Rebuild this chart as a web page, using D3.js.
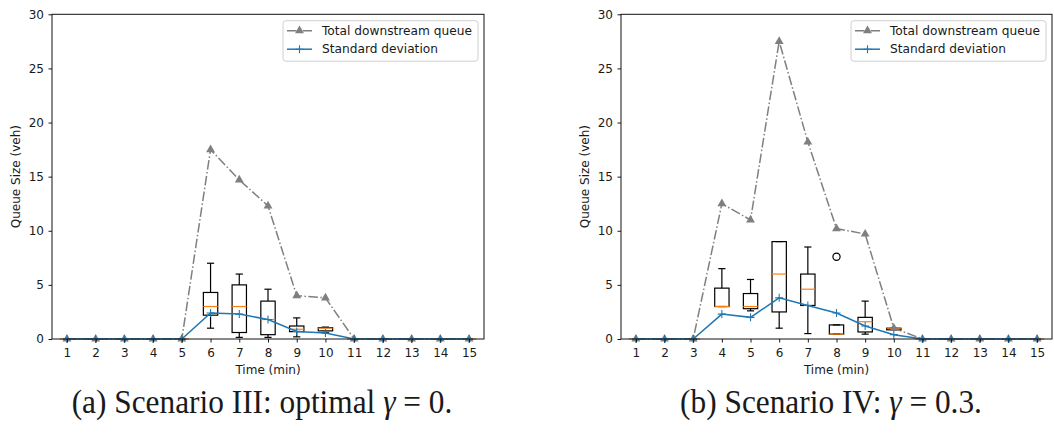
<!DOCTYPE html>
<html>
<head>
<meta charset="utf-8">
<script src="https://cdn.jsdelivr.net/npm/d3@7"></script>
<style>
  html, body { margin: 0; padding: 0; background: #ffffff; }
  svg { display: block; }
  text { font-family: "DejaVu Sans", sans-serif; fill: #1a1a1a; }
  .caption { font-family: "Liberation Serif", serif; fill: #1a1a1a; }
</style>
</head>
<body>
<svg id="fig" width="1054" height="436"></svg>
<script>
// Time steps (minutes) and y tick values
const minutes = [1, 2, 3, 4, 5, 6, 7, 8, 9, 10, 11, 12, 13, 14, 15];
const queueTicks = [0, 5, 10, 15, 20, 25, 30];
const seriesNames = ["Total downstream queue", "Standard deviation"];

// Scenario III (optimal gamma = 0)
const totalQueueA = [0, 0, 0, 0, 0, 17.5, 14.7, 12.3, 4.0, 3.8, 0, 0, 0, 0, 0];
const stdDevA     = [0, 0, 0, 0, 0, 2.4, 2.3, 1.8, 0.7, 0.55, 0, 0, 0, 0, 0];
const whiskerLoA  = [0, 0, 0, 0, 0, 1.0, 0.15, 0.15, 0.2, 0.6, 0, 0, 0, 0, 0];
const q1A         = [0, 0, 0, 0, 0, 2.2, 0.6, 0.4, 0.68, 0.75, 0, 0, 0, 0, 0];
const medianA     = [0, 0, 0, 0, 0, 3.0, 3.0, 1.8, 0.9, 1.0, 0, 0, 0, 0, 0];
const q3A         = [0, 0, 0, 0, 0, 4.3, 5.0, 3.5, 1.2, 1.05, 0, 0, 0, 0, 0];
const whiskerHiA  = [0, 0, 0, 0, 0, 7.0, 6.0, 4.6, 1.95, 1.1, 0, 0, 0, 0, 0];
const flierTimesA = [];
const flierValsA  = [];

// Scenario IV (gamma = 0.3)
const totalQueueB = [0, 0, 0, 12.5, 11.0, 27.5, 18.2, 10.2, 9.7, 1.0, 0, 0, 0, 0, 0];
const stdDevB     = [0, 0, 0, 2.3, 2.0, 3.8, 3.1, 2.4, 1.2, 0.4, 0, 0, 0, 0, 0];
const whiskerLoB  = [0, 0, 0, 3.0, 2.6, 1.0, 0.5, 0.45, 0.45, 0.85, 0, 0, 0, 0, 0];
const q1B         = [0, 0, 0, 3.0, 2.8, 2.5, 3.1, 0.45, 0.65, 0.85, 0, 0, 0, 0, 0];
const medianB     = [0, 0, 0, 3.0, 3.0, 6.0, 4.6, 0.45, 1.6, 1.0, 0, 0, 0, 0, 0];
const q3B         = [0, 0, 0, 4.7, 4.2, 9.0, 6.0, 1.3, 2.0, 1.0, 0, 0, 0, 0, 0];
const whiskerHiB  = [0, 0, 0, 6.5, 5.5, 9.0, 8.5, 1.3, 3.5, 1.0, 0, 0, 0, 0, 0];
const flierTimesB = [8];
const flierValsB  = [7.6];

const GRAY = "#7f7f7f", BLUE = "#1f77b4", ORANGE = "#ff7f0e";
const DASHDOT = "9.6,2.4,1.5,2.4";

const svg = d3.select("#fig");

function drawPanel(cfg) {
  const { left, right, top, bottom } = cfg;
  const x = d3.scaleLinear().domain([0.48, 15.52]).range([left, right]);
  const y = d3.scaleLinear().domain([0, 30]).range([bottom, top]);
  const g = svg.append("g");

  // Box plots
  const boxes = minutes.map((t, i) => ({
    t, lo: cfg.lo[i], q1: cfg.q1[i], med: cfg.med[i], q3: cfg.q3[i], hi: cfg.hi[i]
  }));
  const halfBox = (x(1.25) - x(1)), halfCap = (x(1.125) - x(1));
  const bg = g.append("g").attr("fill", "none").attr("stroke", "#000").attr("stroke-width", 1.2);
  boxes.forEach(b => {
    const cx = x(b.t);
    bg.append("rect")
      .attr("x", cx - halfBox).attr("width", 2 * halfBox)
      .attr("y", y(b.q3)).attr("height", y(b.q1) - y(b.q3));
    bg.append("line").attr("x1", cx).attr("x2", cx).attr("y1", y(b.q3)).attr("y2", y(b.hi));
    bg.append("line").attr("x1", cx).attr("x2", cx).attr("y1", y(b.q1)).attr("y2", y(b.lo));
    bg.append("line").attr("x1", cx - halfCap).attr("x2", cx + halfCap).attr("y1", y(b.hi)).attr("y2", y(b.hi));
    bg.append("line").attr("x1", cx - halfCap).attr("x2", cx + halfCap).attr("y1", y(b.lo)).attr("y2", y(b.lo));
    bg.append("line").attr("stroke", ORANGE)
      .attr("x1", cx - halfBox).attr("x2", cx + halfBox).attr("y1", y(b.med)).attr("y2", y(b.med));
  });
  cfg.flierT.forEach((t, i) => {
    bg.append("circle").attr("cx", x(t)).attr("cy", y(cfg.flierV[i])).attr("r", 3.6);
  });

  // Total downstream queue (dash-dot with triangles)
  const line = d3.line().x((d, i) => x(minutes[i])).y(d => y(d));
  g.append("path").datum(cfg.total)
    .attr("d", line).attr("fill", "none")
    .attr("stroke", GRAY).attr("stroke-width", 1.5).attr("stroke-dasharray", DASHDOT);
  const tri = d3.symbol().type(d3.symbolTriangle).size(34);
  g.selectAll(null).data(cfg.total).join("path")
    .attr("d", tri)
    .attr("transform", (d, i) => `translate(${x(minutes[i])},${y(d)})`)
    .attr("fill", GRAY);

  // Standard deviation (solid with plus markers)
  g.append("path").datum(cfg.std)
    .attr("d", line).attr("fill", "none")
    .attr("stroke", BLUE).attr("stroke-width", 1.5);
  g.selectAll(null).data(cfg.std).join("path")
    .attr("d", "M-4,0H4M0,-4V4")
    .attr("transform", (d, i) => `translate(${x(minutes[i])},${y(d)})`)
    .attr("stroke", BLUE).attr("stroke-width", 1.1).attr("fill", "none");

  // Axes
  const xAxis = d3.axisBottom(x).tickValues(minutes).tickFormat(d3.format("d"))
    .tickSize(3.5).tickPadding(5.5).tickSizeOuter(0);
  const yAxis = d3.axisLeft(y).tickValues(queueTicks).tickFormat(d3.format("d"))
    .tickSize(3.5).tickPadding(4.5).tickSizeOuter(0);
  const gx = g.append("g").attr("transform", `translate(0,${bottom})`).call(xAxis);
  const gy = g.append("g").attr("transform", `translate(${left},0)`).call(yAxis);
  [gx, gy].forEach(a => {
    a.select(".domain").remove();
    a.selectAll(".tick line").attr("stroke", "#000").attr("stroke-width", 0.9);
    a.selectAll(".tick text").attr("font-size", 12).attr("fill", "#1a1a1a")
      .style("font-family", "'DejaVu Sans', sans-serif");
  });

  // Frame
  g.append("rect").attr("x", left).attr("y", top)
    .attr("width", right - left).attr("height", bottom - top)
    .attr("fill", "none").attr("stroke", "#111").attr("stroke-width", 1);

  // Axis labels
  g.append("text").attr("x", (left + right) / 2).attr("y", 373.5)
    .attr("text-anchor", "middle").attr("font-size", 12).text("Time (min)");
  g.append("text")
    .attr("transform", `translate(${left - 32},${(top + bottom) / 2}) rotate(-90)`)
    .attr("text-anchor", "middle").attr("font-size", 12).text("Queue Size (veh)");

  // Legend
  const lw = 195, lh = 40.5;
  const lx = right - 6 - lw, ly = top + 6.4;
  const lg = g.append("g").attr("transform", `translate(${lx},${ly})`);
  lg.append("rect").attr("width", lw).attr("height", lh).attr("rx", 3)
    .attr("fill", "#fff").attr("fill-opacity", 0.85)
    .attr("stroke", "#d0d0d0").attr("stroke-width", 1);
  const rows = [10, 28.5];
  lg.append("line").attr("x1", 4).attr("x2", 29).attr("y1", rows[0]).attr("y2", rows[0])
    .attr("stroke", GRAY).attr("stroke-width", 1.5).attr("stroke-dasharray", DASHDOT);
  lg.append("path").attr("d", tri).attr("transform", `translate(16.5,${rows[0]})`).attr("fill", GRAY);
  lg.append("line").attr("x1", 4).attr("x2", 29).attr("y1", rows[1]).attr("y2", rows[1])
    .attr("stroke", BLUE).attr("stroke-width", 1.5);
  lg.append("path").attr("d", "M-4,0H4M0,-4V4").attr("transform", `translate(16.5,${rows[1]})`)
    .attr("stroke", BLUE).attr("stroke-width", 1.1);
  seriesNames.forEach((name, i) => {
    lg.append("text").attr("x", 39).attr("y", rows[i] + 4.3).attr("font-size", 12.2).text(name);
  });

  // Caption (slightly condensed serif)
  const cap = svg.append("text").attr("class", "caption")
    .attr("transform", `translate(${cfg.capX},413) scale(0.95,1)`)
    .attr("text-anchor", "middle").attr("font-size", 33);
  cap.append("tspan").text(cfg.capPre);
  cap.append("tspan").attr("font-style", "italic").text("γ");
  cap.append("tspan").text(cfg.capPost);
}

drawPanel({
  left: 52, right: 484, top: 14.3, bottom: 339,
  total: totalQueueA, std: stdDevA,
  lo: whiskerLoA, q1: q1A, med: medianA, q3: q3A, hi: whiskerHiA,
  flierT: flierTimesA, flierV: flierValsA,
  capX: 262, capPre: "(a) Scenario III: optimal ", capPost: " = 0."
});

drawPanel({
  left: 621, right: 1052, top: 14.3, bottom: 339,
  total: totalQueueB, std: stdDevB,
  lo: whiskerLoB, q1: q1B, med: medianB, q3: q3B, hi: whiskerHiB,
  flierT: flierTimesB, flierV: flierValsB,
  capX: 831, capPre: "(b) Scenario IV: ", capPost: " = 0.3."
});
</script>
</body>
</html>
